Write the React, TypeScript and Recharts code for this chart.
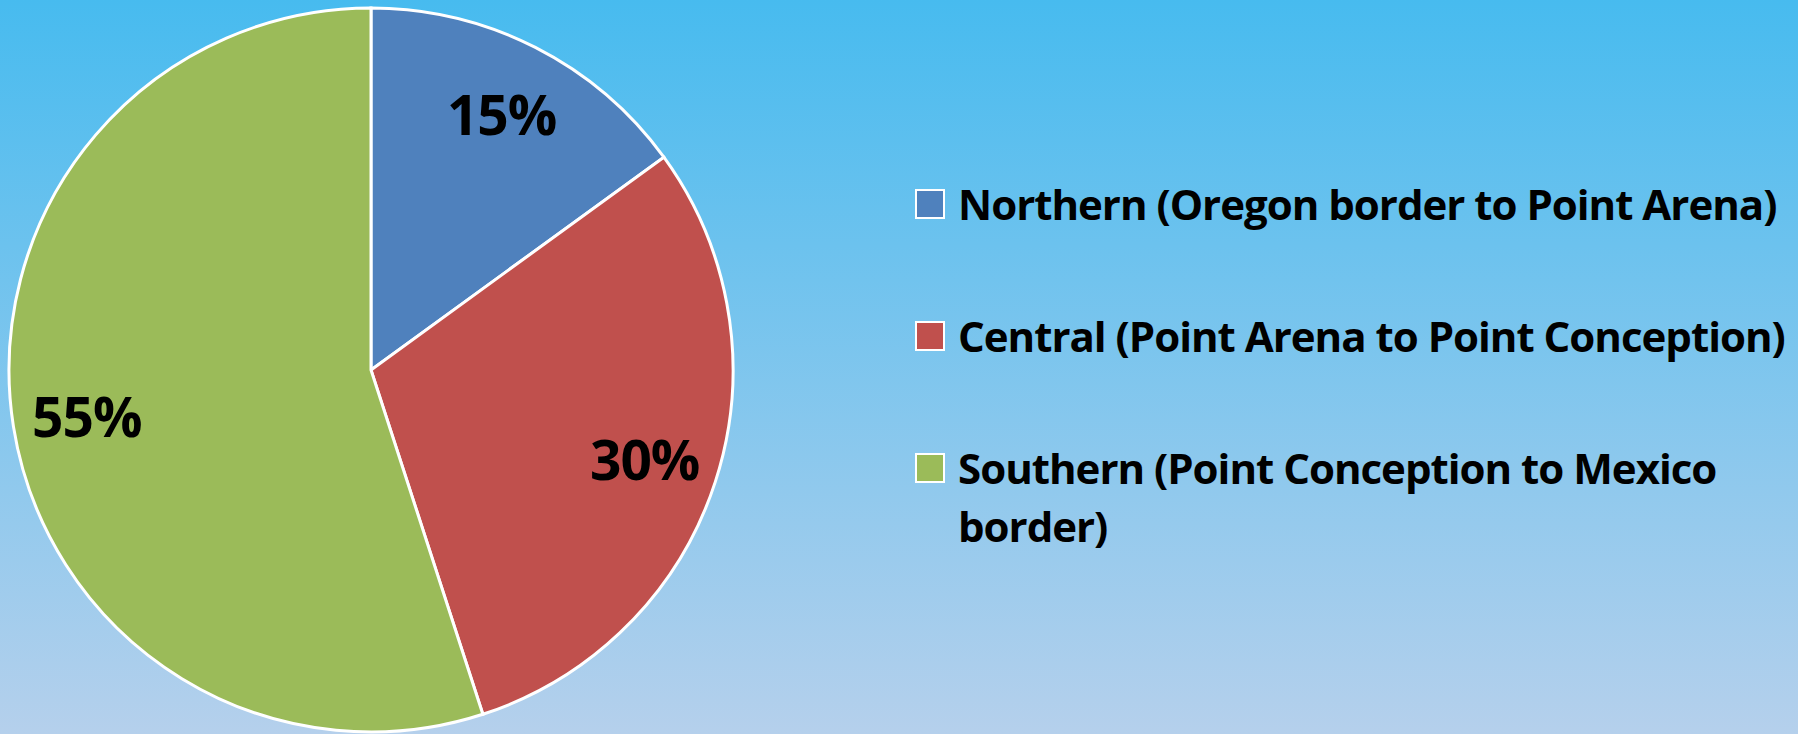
import React from 'react';
import { PieChart, Pie, Cell, Legend } from 'recharts';

const CATEGORIES = [
  'Northern (Oregon border to Point Arena)',
  'Central (Point Arena to Point Conception)',
  'Southern (Point Conception to Mexico border)',
];
const SHARES = [15, 30, 55];
const COLORS = ['#4F81BD', '#C0504D', '#9BBB59'];

const data = CATEGORIES.map((name, i) => ({ name, value: SHARES[i] }));

const RAD = Math.PI / 180;
const FONT = '"Open Sans", "Noto Sans", sans-serif';

const renderLabel = (props: any) => {
  const { cx, cy, midAngle, outerRadius, value } = props;
  const r = outerRadius * 0.795;
  const x = cx + r * Math.cos(-midAngle * RAD);
  const y = cy + r * Math.sin(-midAngle * RAD);
  return (
    <text
      x={x}
      y={y}
      textAnchor="middle"
      dominantBaseline="central"
      fill="#000"
      fontFamily={FONT}
      fontWeight={700}
      fontSize={55}
      letterSpacing={-1}
    >
      {`${value}%`}
    </text>
  );
};

const renderLegend = (props: any) => {
  const payload = props.payload || [];
  return (
    <div
      style={{
        fontFamily: FONT,
        fontWeight: 700,
        fontSize: 42,
        lineHeight: '58px',
        letterSpacing: '-1px',
        color: '#000',
      }}
    >
      {payload.map((entry: any, i: number) => (
        <div key={i} style={{ display: 'flex', alignItems: 'flex-start', marginBottom: 74 }}>
          <div
            style={{
              width: 26,
              height: 26,
              border: '2px solid #fff',
              background: entry.color || COLORS[i],
              marginTop: 14,
              marginRight: 13,
              flex: '0 0 auto',
            }}
          />
          <div style={{ flex: '1 1 auto' }}>{entry.value}</div>
        </div>
      ))}
    </div>
  );
};

export default function App() {
  return (
    <div
      style={{
        position: 'fixed',
        left: 0,
        top: 0,
        width: 1798,
        height: 734,
        overflow: 'hidden',
        background: 'linear-gradient(to bottom, #47BBEF 0%, #B5D0EC 100%)',
      }}
    >
      <PieChart width={1798} height={734} margin={{ top: 0, right: 0, bottom: 0, left: 0 }}>
        <Pie
          data={data}
          dataKey="value"
          nameKey="name"
          cx={371}
          cy={370}
          outerRadius={362}
          startAngle={90}
          endAngle={-270}
          stroke="#FFFFFF"
          strokeWidth={3}
          label={renderLabel}
          labelLine={false}
          isAnimationActive={false}
        >
          {data.map((_, i) => (
            <Cell key={i} fill={COLORS[i]} />
          ))}
        </Pie>
        <Legend
          layout="vertical"
          align="right"
          verticalAlign="top"
          itemSorter={null as any}
          content={renderLegend}
          wrapperStyle={{ left: 915, top: 175, width: 883, right: 'auto', bottom: 'auto' }}
        />
      </PieChart>
    </div>
  );
}
